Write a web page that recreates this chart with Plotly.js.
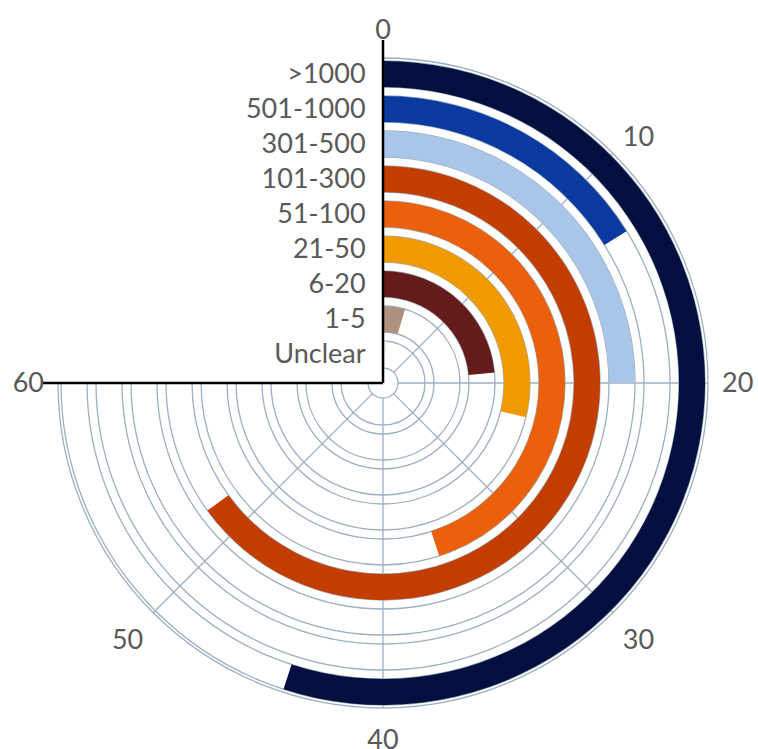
<!DOCTYPE html>
<html>
<head>
<meta charset="utf-8">
<script src="https://cdn.plot.ly/plotly-3.0.1.min.js"></script>
<style>
html, body { margin: 0; padding: 0; background: #ffffff; }
#chart { width: 758px; height: 749px; }
</style>
</head>
<body>
<div id="chart"></div>
<script>
// ---- data ----
var categories = ['Unclear', '1-5', '6-20', '21-50', '51-100', '101-300', '301-500', '501-1000', '>1000'];
var values = [1, 3.7, 18.8, 23, 36, 52, 20, 12.9, 44];
var colors = ['#f4eee4', '#ae927f', '#661b1b', '#f09a00', '#ea600c', '#c23e00', '#a9c6e8', '#0a3a9f', '#03103f'];
var angularTickValues = [0, 10, 20, 30, 40, 50, 60];
var fullCircle = 80;

// ---- geometry (layout only) ----
var W = 758, H = 749;
var cxPx = 383, cyPx = 383, Rpx = 325;
var unit = 35;                 // px per category ring
var holePx = 15;
var bandInner = 16 / unit;     // offset of band inner edge within a ring
var bandOuter = 42 / unit;     // offset of band outer edge within a ring
var gridColor = '#9eafc2';
var textColor = '#595959';
var fontFam = 'Lato, "Open Sans", sans-serif';

function toDeg(v) { return v * 360 / fullCircle; }

var theta = values.map(function (v) { return toDeg(v) / 2; });
var widths = values.map(function (v) { return toDeg(v); });
var bases = categories.map(function (c, i) { return i + bandInner; });
var thick = categories.map(function () { return bandOuter - bandInner; });

var radialGrid = [];
categories.forEach(function (c, i) { radialGrid.push(i + bandInner); radialGrid.push(i + bandOuter); });
var labelPos = categories.map(function (c, i) { return i + (bandInner + bandOuter) / 2; });

var traces = [
  {
    type: 'barpolar',
    r: thick,
    base: bases,
    theta: theta,
    width: widths,
    marker: { color: colors, line: { width: 0 } },
    hoverinfo: 'skip',
    showlegend: false
  },
  {
    type: 'scatter', x: [], y: [], xaxis: 'x', yaxis: 'y',
    hoverinfo: 'skip', showlegend: false
  }
];

var layout = {
  width: W, height: H, autosize: false,
  margin: { l: 0, r: 0, t: 0, b: 0, pad: 0 },
  paper_bgcolor: '#ffffff',
  plot_bgcolor: 'rgba(0,0,0,0)',
  showlegend: false,
  font: { family: fontFam, color: textColor, size: 27 },
  polar: {
    domain: { x: [(cxPx - Rpx) / W, (cxPx + Rpx) / W], y: [1 - (cyPx + Rpx) / H, 1 - (cyPx - Rpx) / H] },
    sector: [-180, 90],
    hole: holePx / Rpx,
    bgcolor: 'rgba(0,0,0,0)',
    radialaxis: {
      range: [holePx / unit, Rpx / unit],
      tickmode: 'array',
      tickvals: radialGrid,
      showticklabels: false,
      ticks: '',
      showline: false,
      showgrid: true,
      gridcolor: gridColor,
      gridwidth: 1.3
    },
    angularaxis: {
      type: 'linear',
      thetaunit: 'degrees',
      rotation: 90,
      direction: 'clockwise',
      tickmode: 'array',
      tickvals: angularTickValues.map(toDeg),
      ticktext: angularTickValues.map(String),
      ticks: 'outside',
      ticklen: 8,
      tickcolor: 'rgba(0,0,0,0)',
      showticklabels: true,
      tickfont: { family: fontFam, size: 27, color: textColor },
      showline: true,
      linecolor: gridColor,
      linewidth: 1.3,
      showgrid: true,
      gridcolor: gridColor,
      gridwidth: 1.3
    }
  },
  xaxis: {
    domain: [0, cxPx / W],
    range: [0, 1],
    visible: false,
    fixedrange: true
  },
  yaxis: {
    domain: [1 - cyPx / H, 1 - (cyPx - Rpx) / H],
    range: [0, Rpx / unit],
    anchor: 'free',
    position: cxPx / W,
    side: 'left',
    tickmode: 'array',
    tickvals: labelPos,
    ticktext: categories,
    ticks: 'outside',
    ticklen: 12,
    tickcolor: 'rgba(0,0,0,0)',
    tickfont: { family: fontFam, size: 27, color: textColor },
    showgrid: false,
    zeroline: false,
    showline: false,
    fixedrange: true
  },
  shapes: [
    { type: 'line', xref: 'paper', yref: 'paper',
      x0: cxPx / W, y0: 1 - cyPx / H, x1: cxPx / W, y1: 1 - 40 / H,
      line: { color: '#000000', width: 2.5 } },
    { type: 'line', xref: 'paper', yref: 'paper',
      x0: 43 / W, y0: 1 - cyPx / H, x1: cxPx / W, y1: 1 - cyPx / H,
      line: { color: '#000000', width: 2.5 } }
  ]
};

Plotly.newPlot('chart', traces, layout, { displayModeBar: false, staticPlot: true });
</script>
</body>
</html>
